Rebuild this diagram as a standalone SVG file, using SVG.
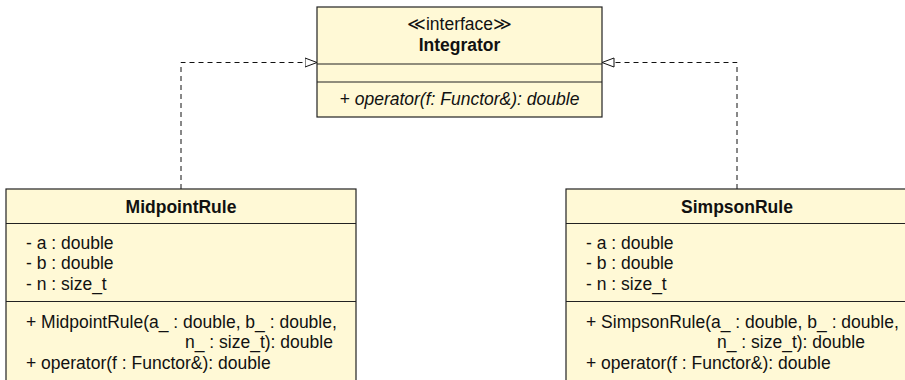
<svg xmlns="http://www.w3.org/2000/svg" width="905" height="380" viewBox="0 0 905 380">
<style>
.box{fill:#FFF9D6;stroke:#222;stroke-width:1.2}
.div{stroke:#222;stroke-width:1.2}
text{font-family:"Liberation Sans",Arial,sans-serif;font-size:17.5px;fill:#111}
.b{font-weight:bold}
.c{text-anchor:middle}
.i{font-style:italic}
.con{fill:none;stroke:#111;stroke-width:1;stroke-dasharray:5 4}
</style>
<defs>
<marker id="tri" markerUnits="userSpaceOnUse" markerWidth="14" markerHeight="12" refX="12.5" refY="5.5" orient="auto">
<path d="M0.5,1 L12.5,5.5 L0.5,10 Z" fill="#fff" stroke="#111" stroke-width="1" stroke-dasharray="none"/>
</marker>
</defs>
<g id="connectors">
<path class="con" d="M181,189 V62.5 H317" marker-end="url(#tri)"/>
<path class="con" d="M737,189 V62.5 H602" marker-end="url(#tri)"/>
</g>
<g id="Integrator">
<rect class="box" x="317" y="7" width="285" height="110"/>
<line class="div" x1="317" y1="64" x2="602" y2="64"/>
<line class="div" x1="317" y1="82" x2="602" y2="82"/>
<text class="c" x="459.5" y="30">≪interface≫</text>
<text class="c b" x="459.5" y="51">Integrator</text>
<text class="c i" x="459.5" y="105">+ operator(f: Functor&amp;): double</text>
</g>
<g id="MidpointRule">
<rect class="box" x="6" y="189" width="350" height="200"/>
<line class="div" x1="6" y1="223.5" x2="356" y2="223.5"/>
<line class="div" x1="6" y1="301.5" x2="356" y2="301.5"/>
<text class="c b" x="181" y="213">MidpointRule</text>
<text x="26" y="248.5">- a : double</text>
<text x="26" y="269">- b : double</text>
<text x="26" y="289.5">- n : size_t</text>
<text x="26" y="327.5">+ MidpointRule(a_ : double, b_ : double,</text>
<text x="185" y="348">n_ : size_t): double</text>
<text x="26" y="368.5">+ operator(f : Functor&amp;): double</text>
</g>
<g id="SimpsonRule">
<rect class="box" x="566" y="189" width="342" height="200"/>
<line class="div" x1="566" y1="223.5" x2="908" y2="223.5"/>
<line class="div" x1="566" y1="301.5" x2="908" y2="301.5"/>
<text class="c b" x="737" y="213">SimpsonRule</text>
<text x="586" y="248.5">- a : double</text>
<text x="586" y="269">- b : double</text>
<text x="586" y="289.5">- n : size_t</text>
<text x="586" y="327.5">+ SimpsonRule(a_ : double, b_ : double,</text>
<text x="717" y="348">n_ : size_t): double</text>
<text x="586" y="368.5">+ operator(f : Functor&amp;): double</text>
</g>
</svg>
